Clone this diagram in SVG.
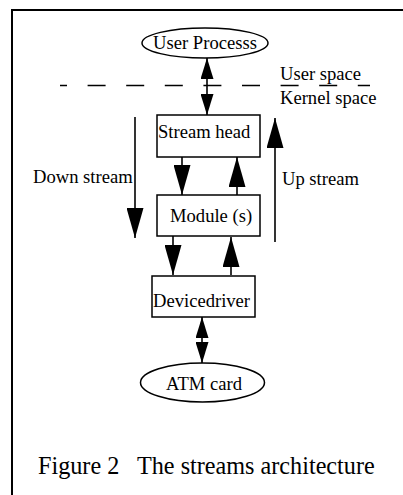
<svg xmlns="http://www.w3.org/2000/svg" width="403" height="495" viewBox="0 0 403 495">
<style>
text{font-family:"Liberation Serif","Times New Roman",serif;font-size:18.6px;fill:#000}
.box{fill:#fff;stroke:#000;stroke-width:1.5}
.conn{stroke:#000;stroke-width:1.6;fill:none}
.cap{font-size:24.2px}
</style>
<defs>
<marker id="big" viewBox="0 0 30 17" markerWidth="30" markerHeight="17" refX="30" refY="8.5" orient="auto-start-reverse" markerUnits="userSpaceOnUse"><path d="M0,0 L30,8.5 L0,17 z" fill="#000"/></marker>
<marker id="small" viewBox="0 0 21 13" markerWidth="21" markerHeight="13" refX="21" refY="6.5" orient="auto-start-reverse" markerUnits="userSpaceOnUse"><path d="M0,0 L21,6.5 L0,13 z" fill="#000"/></marker>
</defs>
<rect width="403" height="495" fill="#fff"/>
<path d="M12,495 V10 H403" fill="none" stroke="#000" stroke-width="2"/>
<line x1="60" y1="85.5" x2="370" y2="85.5" stroke="#000" stroke-width="1.6" stroke-dasharray="18 20.6" stroke-dashoffset="11"/>
<text x="280" y="80">User space</text>
<text x="280" y="104">Kernel space</text>
<g id="connectors" class="conn">
<line x1="207" y1="58" x2="207" y2="115" marker-start="url(#small)" marker-end="url(#small)"/>
<line x1="182" y1="157" x2="182" y2="195" marker-end="url(#big)"/>
<line x1="237" y1="195" x2="237" y2="157" marker-end="url(#big)"/>
<line x1="173" y1="236" x2="173" y2="275" marker-end="url(#big)"/>
<line x1="231" y1="275" x2="231" y2="237" marker-end="url(#big)"/>
<line x1="202" y1="317" x2="202" y2="363" marker-start="url(#small)" marker-end="url(#small)"/>
<line x1="135" y1="117" x2="135" y2="238" marker-end="url(#big)"/>
<line x1="275" y1="242" x2="275" y2="118" marker-end="url(#big)"/>
</g>
<g id="user-process">
<ellipse class="box" cx="205" cy="43" rx="63" ry="15"/>
<text x="205" y="49" text-anchor="middle">User Processs</text>
</g>
<g id="stream-head">
<rect class="box" x="157" y="115" width="103" height="42"/>
<text x="158" y="138">Stream head</text>
</g>
<g id="module">
<rect class="box" x="157" y="195" width="103" height="41"/>
<text x="170" y="222">Module (s)</text>
</g>
<g id="devicedriver">
<rect class="box" x="152" y="276" width="103" height="41"/>
<text x="153" y="307">Devicedriver</text>
</g>
<g id="atm-card">
<ellipse class="box" cx="202.5" cy="382.5" rx="62" ry="19.5"/>
<text x="204" y="390" text-anchor="middle">ATM card</text>
</g>
<g id="labels">
<text x="33" y="183">Down stream</text>
<text x="282" y="185">Up stream</text>
<text class="cap" x="38" y="474" xml:space="preserve">Figure 2   The streams architecture</text>
</g>
</svg>
